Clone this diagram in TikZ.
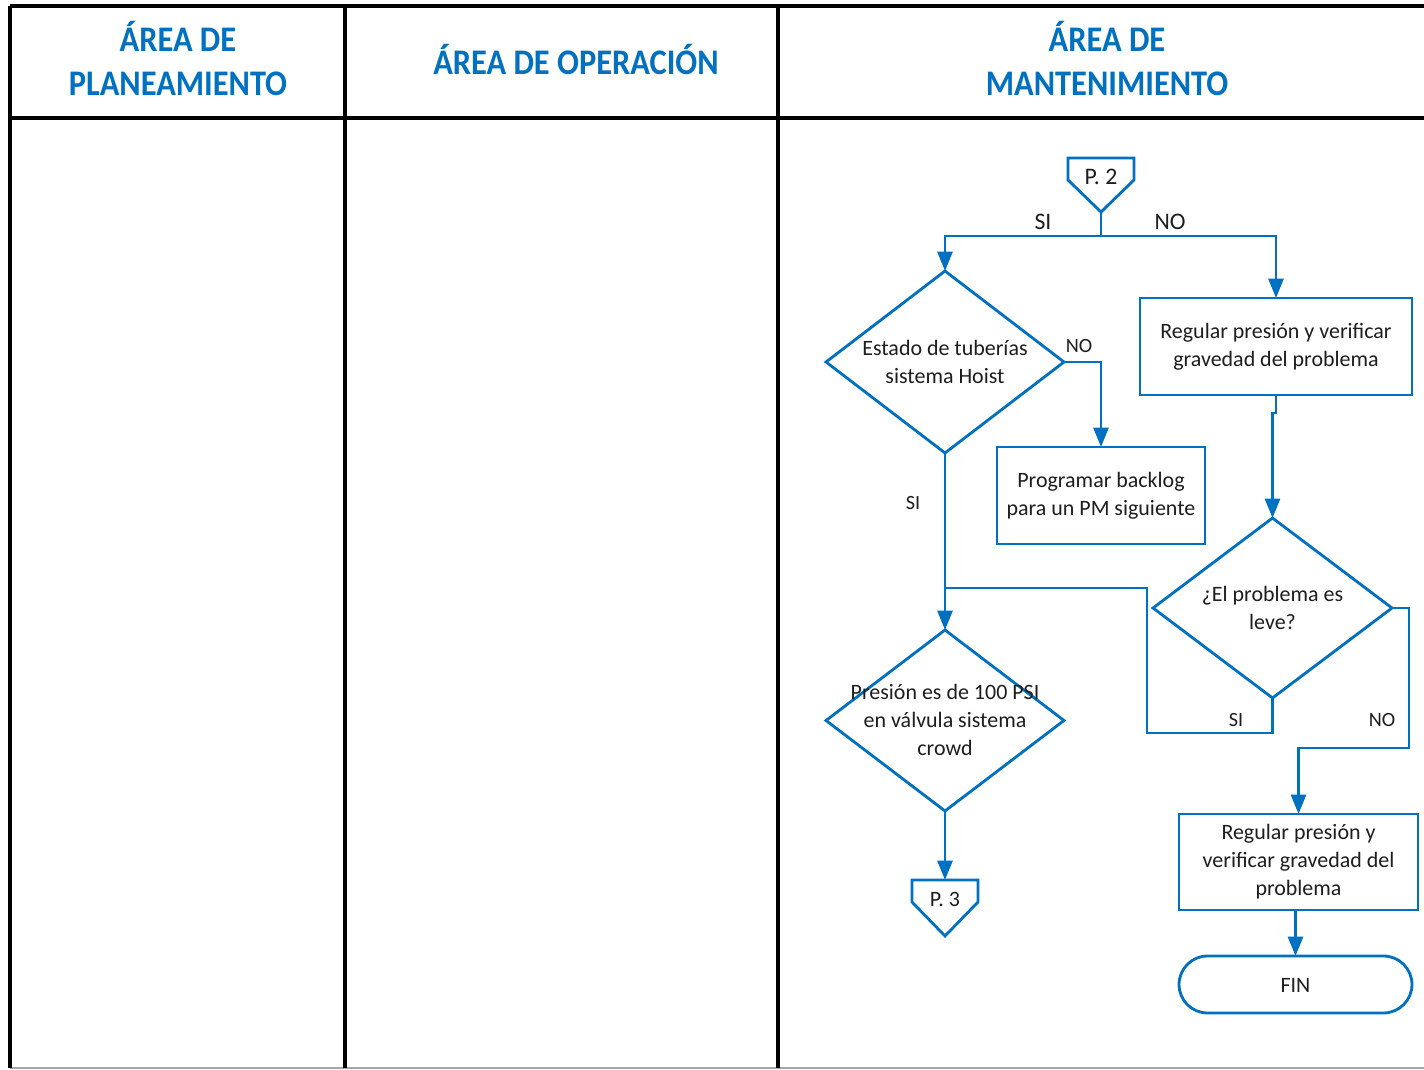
\documentclass[tikz,border=0pt]{standalone}
\usepackage{fontspec}
\setmainfont{Carlito}
\usetikzlibrary{arrows.meta,shapes.geometric}
\definecolor{flowblue}{RGB}{0,112,192}
\definecolor{txt}{RGB}{30,30,30}
% condensed two-line lane heading
\newcommand{\lanehead}[1]{\scalebox{0.9}[1]{\begin{tabular}{@{}c@{}}#1\end{tabular}}}
\begin{document}
\begin{tikzpicture}[x=0.02cm,y=-0.02cm,
  lane/.style={line width=2.2pt,black},
  head/.style={text=flowblue,font=\fontsize{20.5}{25}\selectfont\bfseries,inner sep=0pt},
  flow/.style={draw=flowblue,line width=1.6pt},
  arr/.style={flow,-{Triangle[width=8.5pt,length=11pt]}},
  box/.style={flow,rectangle,inner sep=0pt,outer sep=0pt},
  dia/.style={flow,diamond,inner sep=0pt,outer sep=0pt},
  body/.style={text=txt,font=\fontsize{12.5}{16}\selectfont,align=center,inner sep=0pt},
  lbl/.style={text=txt,font=\fontsize{11.5}{14}\selectfont,inner sep=0pt},
  lblbig/.style={text=txt,font=\fontsize{13.5}{15}\selectfont,inner sep=0pt}]
\useasboundingbox (0,0) rectangle (1424,1070);
\fill[white] (0,0) rectangle (1424,1070);

% swimlane table
\draw[gray!70,line width=0.6pt] (10,1068) -- (1424,1068);
\draw[lane] (10,6) -- (1424,6);
\draw[lane] (10,118) -- (1424,118);
\draw[lane] (10,6) -- (10,1068);
\draw[lane] (345,6) -- (345,1068);
\draw[lane] (778,6) -- (778,1068);

\node[head] (h1) at (178,65) {\lanehead{ÁREA DE\\PLANEAMIENTO}};
\node[head] (h2) at (576,66) {\lanehead{ÁREA DE OPERACIÓN}};
\node[head] (h3) at (1107,65) {\lanehead{ÁREA DE\\MANTENIMIENTO}};

% off-page connector P. 2
\coordinate (p2tip) at (1101,212);
\draw[flow,line join=miter] (1068,158) -- (1134,158) -- (1134,180) -- (p2tip) -- (1068,180) -- cycle;
\node[lblbig] (p2) at (1101,177) {P. 2};

% shapes
\node[dia,minimum width=4.76cm,minimum height=3.64cm] (d1) at (945,362) {};
\node[body] (d1t) at (945,362) {Estado de tuberías\\sistema Hoist};

\node[box,minimum width=5.44cm,minimum height=1.94cm] (r1) at (1276,346.5) {};
\node[body] (r1t) at (1276,347) {Regular presión y verificar\\gravedad del problema};

\node[box,minimum width=4.16cm,minimum height=1.94cm] (prog) at (1101,495.5) {};
\node[body] (progt) at (1101,496) {Programar backlog\\para un PM siguiente};

\node[dia,minimum width=4.78cm,minimum height=3.6cm] (d3) at (1272.5,608) {};
\node[body] (d3t) at (1272.5,608) {¿El problema es\\leve?};

\node[dia,minimum width=4.76cm,minimum height=3.62cm] (d2) at (945,720.5) {};
\node[body] (d2t) at (945,720) {Presión es de 100 PSI\\en válvula sistema\\crowd};

\node[box,minimum width=4.78cm,minimum height=1.92cm] (r2) at (1298.5,862) {};
\node[body] (r2t) at (1298.5,862) {Regular presión y\\verificar gravedad del\\problema};

\node[box,rounded corners=0.57cm,minimum width=4.66cm,minimum height=1.14cm] (fin) at (1295.5,984.5) {};
\node[body] (fint) at (1295.5,985) {FIN};

% off-page connector P. 3
\coordinate (p3top) at (945,880);
\draw[flow,line join=miter] (912,880) -- (978,880) -- (978,902) -- (945,936) -- (912,902) -- cycle;
\node[body] (p3) at (945,899) {P. 3};

% connectors
\coordinate (j2) at (1101,236);
\draw[flow] (p2tip) -- (j2);
\draw[arr] (j2) -| (d1.north);
\draw[arr] (j2) -| (r1.north);
\node[lblbig] (l1) at (1043,222) {SI};
\node[lblbig] (l2) at (1170,222) {NO};

\draw[arr] (d1.east) -| (prog.north);
\node[lbl] (l3) at (1079,346) {NO};

\draw[arr] (d1.south) -- (d2.north);
\node[lbl] (l4) at (913,503) {SI};

\draw[arr] (r1.south) -- ++(0,18) -| (d3.north);

\coordinate (jm) at (945,588);
\coordinate (siA) at (1147,733);
\coordinate (siB) at (1147,588);
\draw[flow] (d3.south) |- (siA) -- (siB) -- (jm);
\node[lbl] (l5) at (1236,720) {SI};

\coordinate (noA) at (1409,748);
\draw[arr] (d3.east) -| (noA) -| (r2.north);
\node[lbl] (l6) at (1382,720) {NO};

\draw[arr] (d2.south) -- (p3top);
\draw[arr] (fin.north |- r2.south) -- (fin.north);
\end{tikzpicture}
\end{document}
